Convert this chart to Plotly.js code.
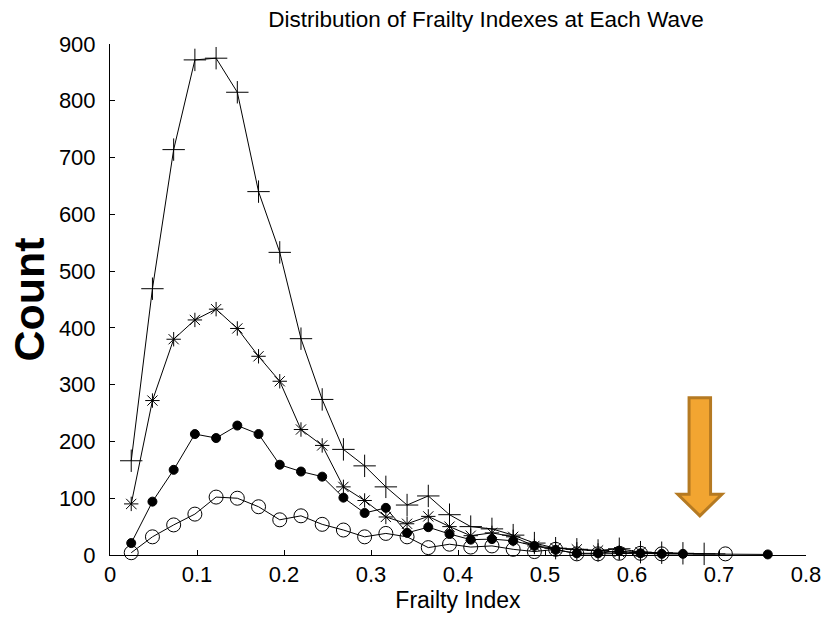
<!DOCTYPE html>
<html>
<head>
<meta charset="utf-8">
<script src="https://cdn.plot.ly/plotly-3.0.1.min.js"></script>
<style>html,body{margin:0;padding:0;background:#fff;}#chart{width:828px;height:620px;}</style>
</head>
<body>
<div id="chart"></div>
<script>
// Bin index k -> frailty index k/41
const binsPlus   = [1,2,3,4,5,6,7,8,9,10,11,12,13,14,15,16,17,18,19,20,21,22,23,24,25,26,27,28];
const countPlus  = [166,469,714,872,875,815,640,533,381,274,186,157,120,88,104,71,50,46,35,21,12,10,8,11,5,4,3,2];

const binsStar   = [1,2,3,4,5,6,7,8,9,10,11,12,13,14,15,16,17,18,19,20,21,22,23,24,25];
const countStar  = [90,272,380,414,433,399,350,306,221,193,120,96,67,55,68,50,34,39,32,16,12,10,8,5,5];

const binsDot    = [1,2,3,4,5,6,7,8,9,10,11,12,13,14,15,16,17,18,19,20,21,22,23,24,25,26,27,31];
const countDot   = [21,94,150,213,206,228,213,159,147,138,101,74,83,39,49,37,27,28,25,16,9,3,3,7,3,2,2,1];

const binsCircle = [1,2,3,4,5,6,7,8,9,10,11,12,13,14,15,16,17,18,19,20,21,22,23,24,25,26,29];
const countCircle= [4,32,53,72,102,100,85,62,69,54,44,32,38,32,13,19,14,16,10,6,10,2,2,3,3,2,2];

const nDeficits = 41;
const toFI = b => b.map(k => k / nDeficits);

const xTicks = [0,0.1,0.2,0.3,0.4,0.5,0.6,0.7,0.8];
const yTicks = [0,100,200,300,400,500,600,700,800,900];

const font = "Liberation Sans, Arial, sans-serif";

function series(bins, counts, symbol, size) {
  return {
    type: 'scatter', mode: 'lines+markers',
    x: toFI(bins), y: counts,
    line: {color: 'black', width: 1},
    marker: {symbol: symbol, size: size, color: 'black',
             line: {color: 'black', width: 1}},
    showlegend: false, cliponaxis: false
  };
}

const data = [
  series(binsPlus, countPlus, 'cross-thin-open', 16),
  series(binsStar, countStar, 'asterisk-open', 12),
  series(binsDot, countDot, 'circle', 9),
  series(binsCircle, countCircle, 'circle-open', 14)
];

const layout = {
  width: 828, height: 620,
  margin: {l: 110, r: 22, t: 44, b: 65},
  paper_bgcolor: 'white', plot_bgcolor: 'white',
  title: {text: 'Distribution of Frailty Indexes at Each Wave',
          font: {family: font, size: 22.5, color: 'black'},
          x: 0.587, xanchor: 'center', y: 0.969, yanchor: 'middle'},
  xaxis: {
    range: [0, 0.8], tickvals: xTicks, ticktext: xTicks.map(String),
    showgrid: false, zeroline: false, showline: true, linecolor: 'black', linewidth: 1,
    ticks: 'inside', ticklen: 5, tickcolor: 'black',
    tickfont: {family: font, size: 22, color: 'black'},
    title: {text: 'Frailty Index', font: {family: font, size: 23, color: 'black'}, standoff: 4}
  },
  yaxis: {
    range: [0, 900], tickvals: yTicks,
    showgrid: false, zeroline: false, showline: true, linecolor: 'black', linewidth: 1,
    ticks: 'inside', ticklen: 5, tickcolor: 'black', ticklabelstandoff: 9,
    tickfont: {family: font, size: 22, color: 'black'},
    title: {text: '<b>Count</b>', font: {family: font, size: 43, color: 'black'}, standoff: 0}
  },
  shapes: [{
    type: 'path', xref: 'x', yref: 'y',
    path: 'M 0.6656 277 L 0.6903 277 L 0.6903 107 L 0.7034 107 L 0.6780 69 L 0.6526 107 L 0.6656 107 Z',
    fillcolor: '#F2A531', line: {color: '#B57A22', width: 3}, layer: 'above'
  }]
};

Plotly.newPlot('chart', data, layout, {displayModeBar: false, staticPlot: true});
</script>
</body>
</html>
